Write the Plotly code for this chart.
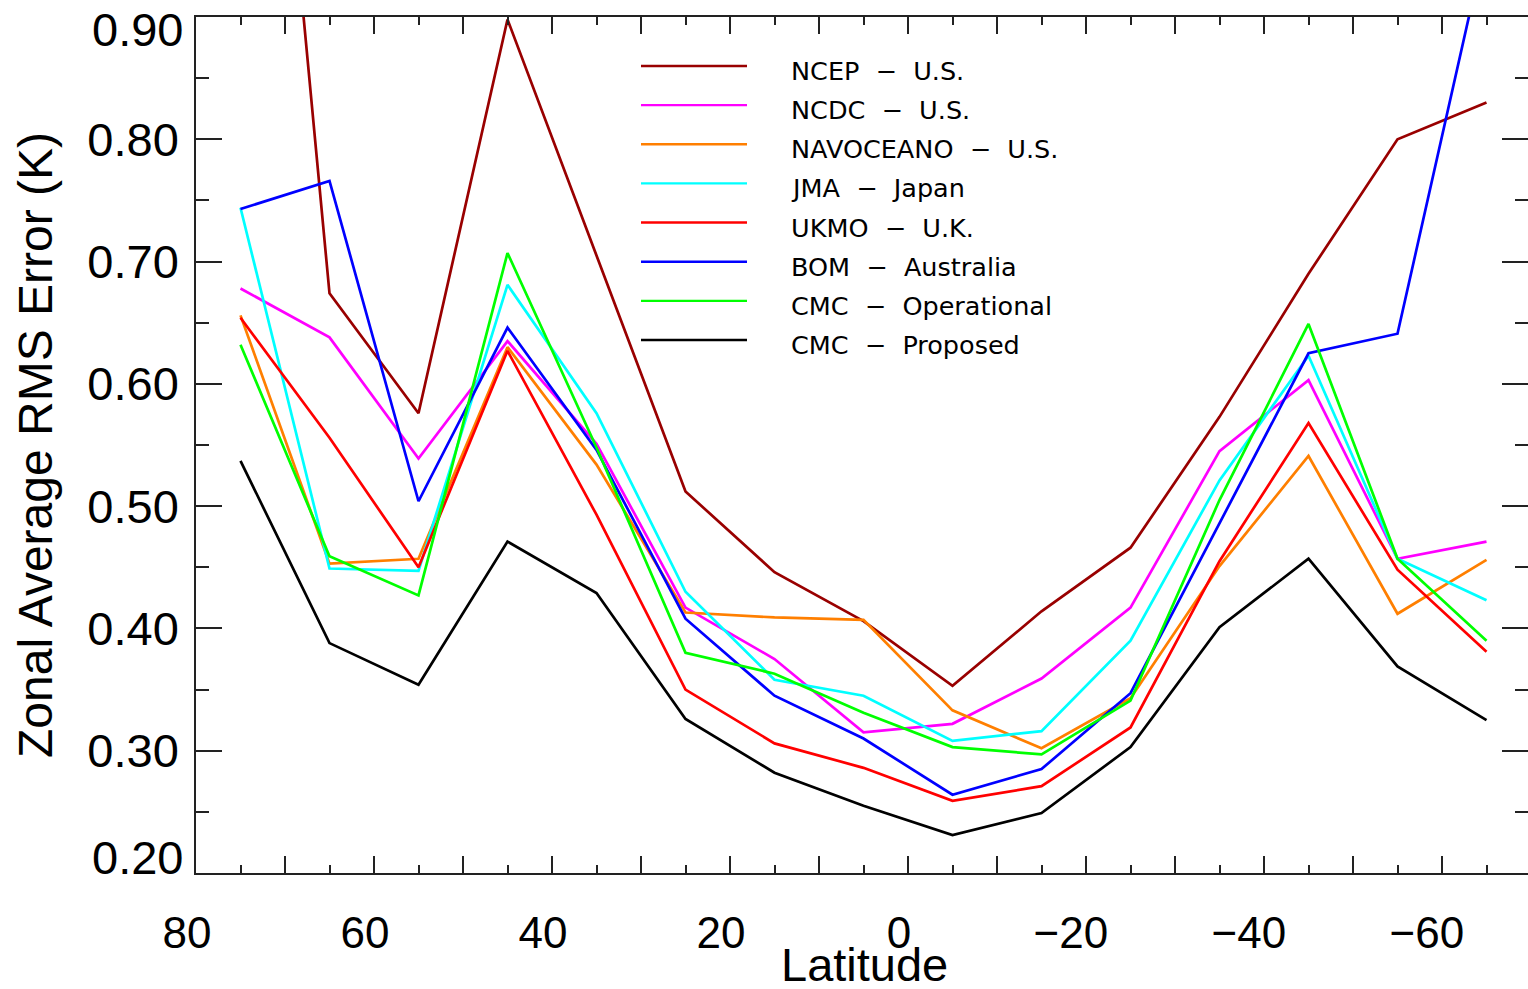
import plotly.graph_objects as go

# Zonal-band centres (degrees latitude, north to south)
latitude = [75, 65, 55, 45, 35, 25, 15, 5, -5, -15, -25, -35, -45, -55, -65]

ncep = [1.45, 0.674, 0.576, 0.898, 0.705, 0.512, 0.446, 0.406, 0.353, 0.414, 0.466, 0.573, 0.690, 0.800, 0.830]
ncdc = [0.678, 0.638, 0.539, 0.635, 0.551, 0.417, 0.375, 0.315, 0.322, 0.359, 0.417, 0.545, 0.603, 0.457, 0.471]
navoceano = [0.656, 0.453, 0.457, 0.630, 0.534, 0.413, 0.409, 0.407, 0.333, 0.302, 0.343, 0.451, 0.541, 0.412, 0.456]
jma = [0.744, 0.449, 0.447, 0.681, 0.576, 0.430, 0.358, 0.345, 0.308, 0.316, 0.390, 0.521, 0.623, 0.457, 0.423]
ukmo = [0.654, 0.556, 0.450, 0.627, 0.493, 0.350, 0.306, 0.286, 0.259, 0.271, 0.319, 0.455, 0.568, 0.448, 0.381]
bom = [0.743, 0.766, 0.504, 0.646, 0.546, 0.408, 0.345, 0.310, 0.264, 0.285, 0.347, 0.486, 0.625, 0.641, 0.964]
cmc_operational = [0.632, 0.459, 0.427, 0.707, 0.548, 0.380, 0.363, 0.331, 0.303, 0.297, 0.341, 0.505, 0.649, 0.457, 0.390]
cmc_proposed = [0.537, 0.388, 0.354, 0.471, 0.429, 0.326, 0.282, 0.255, 0.231, 0.249, 0.303, 0.401, 0.457, 0.369, 0.325]

series_names = ["NCEP", "NCDC", "NAVOCEANO", "JMA", "UKMO", "BOM", "CMC", "CMC"]
series_regions = ["U.S.", "U.S.", "U.S.", "Japan", "U.K.", "Australia", "Operational", "Proposed"]
series_values = [ncep, ncdc, navoceano, jma, ukmo, bom, cmc_operational, cmc_proposed]
series_colors = ["#990000", "#ff00ff", "#ff7f00", "#00ffff", "#ff0000", "#0000ff", "#00ff00", "#000000"]

x_major = [80, 70, 60, 50, 40, 30, 20, 10, 0, -10, -20, -30, -40, -50, -60]
x_labels = ["80", "", "60", "", "40", "", "20", "", "0", "", "\u221220\u00a0", "", "\u221240\u00a0", "", "\u221260\u00a0"]
y_major = [0.2, 0.3, 0.4, 0.5, 0.6, 0.7, 0.8, 0.9]
y_labels = ["", "0.30", "0.40", "0.50", "0.60", "0.70", "0.80", ""]

W, H = 1528, 989
L, R, T, B = 196, 1528, 17, 873   # plot-area edges in pixels

FONT = "Liberation Sans, Arial, Helvetica, sans-serif"
KEY_FONT = "DejaVu Sans, Verdana, sans-serif"

fig = go.Figure()
for name, region, vals, col in zip(series_names, series_regions, series_values, series_colors):
    fig.add_trace(go.Scatter(
        x=latitude, y=vals, mode="lines", name=f"{name} - {region}",
        line=dict(color=col, width=2.7), showlegend=False,
    ))


def paper_x(px):
    return (px - L) / (R - L)


def paper_y(py):
    return (B - py) / (B - T)


# Legend: coloured line samples with labels
shapes = []
annotations = []
row0, row_step = 66.0, 39.14
for i, (name, region, col) in enumerate(zip(series_names, series_regions, series_colors)):
    yy = row0 + i * row_step
    shapes.append(dict(type="line", xref="paper", yref="paper",
                       x0=paper_x(641), x1=paper_x(747), y0=paper_y(yy), y1=paper_y(yy),
                       line=dict(color=col, width=2.4)))
    annotations.append(dict(xref="paper", yref="paper", x=paper_x(789), y=paper_y(yy + 5),
                            xanchor="left", yanchor="middle", showarrow=False,
                            text=f"{name}\u00a0\u00a0\u2212\u00a0\u00a0{region}",
                            font=dict(family=KEY_FONT, size=25.5, color="black")))

# End labels of the value axis sit inside the frame
annotations.append(dict(xref="paper", yref="y", x=0, y=0.9, xanchor="right", yanchor="middle",
                        xshift=-11, yshift=-12, showarrow=False, text="0.90",
                        font=dict(family=FONT, size=47, color="black")))
annotations.append(dict(xref="paper", yref="y", x=0, y=0.2, xanchor="right", yanchor="middle",
                        xshift=-11, yshift=16, showarrow=False, text="0.20",
                        font=dict(family=FONT, size=47, color="black")))

# Horizontal axis title
annotations.append(dict(xref="paper", yref="paper", x=paper_x(864), y=paper_y(964),
                        xanchor="center", yanchor="middle", showarrow=False, text="Latitude",
                        font=dict(family=FONT, size=47, color="black")))

fig.update_layout(
    width=W, height=H,
    margin=dict(l=L, r=W - R, t=T, b=H - B, pad=0, autoexpand=False),
    paper_bgcolor="white", plot_bgcolor="white",
    font=dict(family=FONT, color="black"),
    shapes=shapes, annotations=annotations,
)

fig.update_xaxes(
    range=[80, 80 - (R - L) / 8.9], autorange=False, automargin=False,
    tickmode="array", tickvals=x_major, ticktext=x_labels,
    ticks="inside", ticklen=17, tickwidth=1.5, tickcolor="#222",
    minor=dict(dtick=5, ticks="inside", ticklen=8, tickwidth=1.5, tickcolor="#222"),
    showline=True, linecolor="#222", linewidth=1.5, mirror="ticks",
    showgrid=False, zeroline=False,
    tickfont=dict(family=FONT, size=44, color="black"),
    ticklabelstandoff=20, ticklabelshift=9,
)
fig.update_yaxes(
    range=[0.2, 0.9], autorange=False, automargin=False,
    tickmode="array", tickvals=y_major, ticktext=y_labels,
    ticks="inside", ticklen=26, tickwidth=1.5, tickcolor="#222",
    minor=dict(dtick=0.05, ticks="inside", ticklen=13, tickwidth=1.5, tickcolor="#222"),
    showline=True, linecolor="#222", linewidth=1.5, mirror="ticks",
    showgrid=False, zeroline=False,
    tickfont=dict(family=FONT, size=47, color="black"),
    ticklabelstandoff=6,
    title=dict(text="Zonal Average RMS Error (K)", font=dict(family=FONT, size=48, color="black"), standoff=20),
)

fig.write_html("out.html")
